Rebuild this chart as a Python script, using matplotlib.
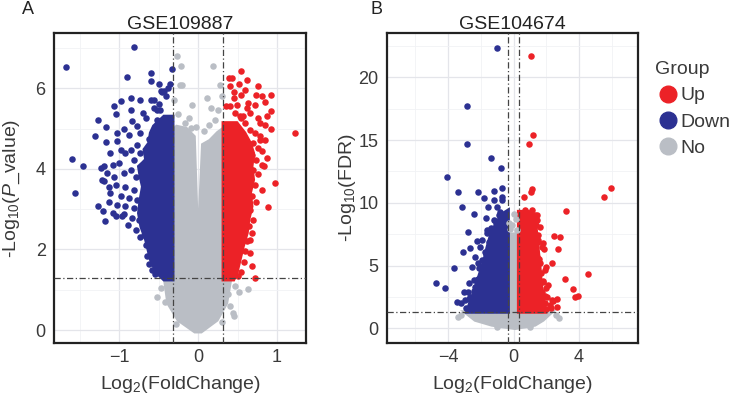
import matplotlib
matplotlib.use('Agg')
import matplotlib.pyplot as plt
from matplotlib.lines import Line2D
from matplotlib.ticker import MultipleLocator

plt.rcParams['font.family'] = ['Liberation Sans', 'DejaVu Sans']
plt.rcParams['mathtext.fontset'] = 'custom'
plt.rcParams['mathtext.rm'] = 'Liberation Sans'
plt.rcParams['mathtext.it'] = 'Liberation Sans:italic'
plt.rcParams['mathtext.default'] = 'regular'

RED = '#EC2227'
BLUE = '#2C3192'
GREY = '#BABEC5'
TXT = '#3A3A3A'

# ---------------- panel A: GSE109887 ----------------
a_fc_cut = 0.32
a_p_cut = 1.301

# dense cores (outline of the solid blobs)
a_down_core_x = [-0.32, -0.43, -0.52, -0.56, -0.60, -0.63, -0.66, -0.72, -0.75, -0.73,
                 -0.70, -0.73, -0.75, -0.70, -0.66, -0.68, -0.62, -0.60, -0.56, -0.43, -0.32]
a_down_core_y = [1.25, 1.25, 1.42, 1.58, 1.75, 2.00, 2.24, 2.57, 2.90, 3.23,
                 3.56, 3.81, 4.06, 4.15, 4.23, 4.48, 4.64, 4.89, 5.06, 5.30, 5.30]
a_up_core_x = [0.32, 0.45, 0.49, 0.53, 0.57, 0.62, 0.64, 0.68, 0.66, 0.70, 0.68,
               0.70, 0.66, 0.59, 0.49, 0.36, 0.32]
a_up_core_y = [1.25, 1.25, 1.42, 1.75, 2.08, 2.41, 2.74, 3.07, 3.40, 3.73, 4.06,
               4.39, 4.64, 4.89, 5.14, 5.14, 5.14]
a_no_core_x = [-0.32, -0.32, -0.27, -0.15, -0.05, -0.01, 0.01, 0.06, 0.15, 0.25, 0.32,
               0.32, 0.41, 0.36, 0.24, 0.04, -0.04, -0.25, -0.38, -0.42]
a_no_core_y = [1.25, 4.95, 5.05, 5.00, 4.80, 2.40, 2.40, 4.60, 4.70, 4.90, 5.00,
               1.25, 1.25, 0.67, 0.25, -0.04, -0.04, 0.25, 0.67, 1.25]

a_down_x = [-0.81, -1.67, -0.90, -0.60, -0.60, -0.33, -0.49, -0.36, -1.06, -0.98, -0.85,
            -0.73, -0.60, -1.04, -1.27, -1.17, -1.30, -1.17, -1.02, -0.94, -0.83, -1.59,
            -1.46, -1.56, -1.27, -1.18, -1.20, -1.23, -1.21, -1.13, -1.04, -0.94,
            -1.19, -1.08, -1.00, -1.15, -1.06, -0.94, -0.85, -0.79, -1.19, -1.04, -0.92,
            -0.81, -1.11, -0.98, -0.87, -0.77, -1.13, -1.02, -0.92, -0.81, -1.08, -0.96,
            -0.83, -0.75, -0.89, -0.79, -0.73, -0.98, -0.85, -0.77, -0.92, -0.81, -0.73,
            -1.11, -1.02, -0.87, -0.73, -0.77, -0.66, -0.85, -0.70, -0.56, -0.47, -0.43,
            -0.56, -0.40, -0.50, -0.45, -0.38, -0.62, -0.52, -0.66, -0.64, -0.69, -0.62,
            -0.58, -0.55, -0.52, -0.48]
a_down_y = [7.02, 6.52, 6.28, 6.38, 6.17, 6.47, 6.10, 6.10, 5.55, 5.69, 5.75,
            5.70, 5.70, 5.35, 5.20, 5.05, 4.82, 4.66, 4.90, 5.00, 5.18, 4.25,
            4.08, 3.40, 3.07, 2.70, 2.95, 4.02, 3.73, 3.56, 2.82, 2.87,
            4.06, 4.10, 4.15, 3.90, 3.81, 3.90, 3.98, 3.81, 3.69, 3.61, 3.56,
            3.48, 3.40, 3.32, 3.28, 3.23, 3.19, 3.11, 3.07, 3.03, 2.90, 2.82,
            2.78, 2.74, 2.61, 2.49, 2.32, 4.48, 4.48, 4.60, 4.39, 4.23, 4.39,
            4.39, 4.68, 4.85, 4.89, 5.06, 5.26, 5.47, 5.38, 5.71, 5.92, 5.92,
            5.51, 5.80, 5.62, 5.90, 6.00, 4.75, 5.45, 2.10, 1.85, 2.35, 1.65,
            1.50, 1.40, 5.20, 5.45]

a_up_x = [0.54, 0.43, 0.39, 0.62, 0.76, 0.93, 1.23, 0.97, 0.89, 0.93, 0.93, 0.85,
          0.74, 0.55, 0.41, 0.66, 0.76, 0.87, 0.83, 0.78, 0.63, 0.49, 0.68, 0.72,
          0.66, 0.66, 0.66, 0.72, 0.78, 0.85, 0.70, 0.76, 0.81, 0.68, 0.74, 0.81,
          0.70, 0.76, 0.66, 0.72, 0.81, 0.68, 0.74, 0.66, 0.70, 0.64, 0.68, 0.78,
          0.87, 0.59, 0.53, 0.47, 0.41, 0.62, 0.72, 0.81, 0.45, 0.59, 0.85, 0.36,
          0.45, 0.52, 0.57, 0.60, 0.58, 0.55, 0.50, 0.62, 0.54]
a_up_y = [6.42, 6.25, 6.25, 6.21, 6.05, 5.84, 4.90, 3.66, 3.05, 5.00, 5.43, 5.66,
          5.84, 5.84, 6.05, 5.38, 5.26, 4.27, 4.06, 4.72, 5.63, 5.59, 1.58, 1.29,
          1.91, 2.24, 4.97, 4.89, 4.81, 4.72, 4.64, 4.52, 4.44, 4.35, 4.23, 4.10,
          3.98, 3.86, 3.73, 3.61, 3.48, 3.32, 3.19, 2.98, 2.74, 2.57, 2.41, 5.14,
          5.30, 5.14, 5.30, 5.38, 5.55, 5.51, 5.59, 5.80, 5.76, 5.96, 5.10, 5.55,
          5.90, 6.10, 5.30, 1.95, 1.70, 1.45, 1.35, 2.20, 5.25]

a_no_x = [-0.27, -0.21, 0.19, -0.23, -0.20, -0.08, 0.11, 0.17, 0.28, 0.14, -0.17,
          -0.09, -0.52, -0.42, 0.63, 0.44, 0.41, -0.25, -0.12, 0.22, 0.25, -0.03,
          0.08, 0.30, -0.30, 0.47, 0.52, -0.47, 0.38, -0.35, 0.45, 0.30, -0.28]
a_no_y = [6.79, 6.54, 6.54, 6.09, 6.09, 5.59, 5.76, 5.51, 6.09, 5.09, 5.14,
          5.02, 0.83, 0.70, 1.03, 0.42, 0.60, 5.35, 5.25, 5.20, 5.45, 5.05,
          4.95, 5.80, 5.70, 1.10, 0.95, 1.05, 0.90, 0.95, 0.35, 0.20, 0.15]

# ---------------- panel B: GSE104674 ----------------
b_fc_cut = 0.32
b_p_cut = 1.301

b_down_core_x = [-0.33, -2.85, -2.70, -2.50, -2.30, -2.05, -1.80, -1.62, -1.45, -1.20,
                 -0.95, -0.70, -0.33]
b_down_core_y = [1.30, 1.30, 1.90, 2.60, 3.40, 4.40, 5.40, 6.40, 7.20, 8.00,
                 8.60, 9.10, 9.40]
b_up_core_x = [0.31, 1.95, 1.85, 1.70, 1.60, 1.50, 1.40, 1.30, 0.90, 0.40, 0.31]
b_up_core_y = [1.30, 1.30, 2.25, 3.32, 4.91, 6.24, 7.57, 9.00, 9.30, 9.30, 9.30]
b_no_core_x = [-2.97, -2.35, -1.33, 0.09, 1.31, 1.80, 2.33, 0.31, 0.31, -0.33, -0.33]
b_no_core_y = [1.30, 0.66, 0.27, 0.00, 0.27, 0.66, 1.30, 1.30, 7.50, 7.50, 1.30]

b_down_x = [-1.03, -2.84, -2.84, -1.36, -0.76, -4.07, -3.39, -2.19, -3.15, -2.40,
            -1.68, -1.56, -1.79, -1.18, -0.73, -2.78, -2.23, -2.64, -3.09, -2.19,
            -3.66, -1.79, -4.72, -4.17, -3.05, -2.78, -3.46, -3.21, -2.23, -1.92,
            -1.41, -1.01, -0.60, -1.62, -1.31, -2.03, -1.72, -2.33, -1.93, -1.41,
            -2.54, -2.13, -1.62, -2.43, -2.74, -2.33, -1.82, -2.64, -2.95, -2.54,
            -1.21, -1.01, -0.70, -0.91, -1.21, -1.62, -1.93, -1.52, -0.70, -0.60,
            -2.90, -2.70, -2.45, -2.20, -1.95, -1.70, -1.50, -1.30, -1.05, -0.85]
b_down_y = [22.3, 17.7, 14.66, 13.55, 12.75, 12.03, 10.83, 10.83, 9.69, 9.10,
            8.76, 9.63, 10.40, 10.94, 11.20, 7.67, 6.95, 6.37, 6.05, 5.20,
            4.83, 4.50, 3.58, 3.24, 2.92, 2.92, 2.12, 1.98, 3.85, 4.11,
            7.97, 8.10, 8.10, 7.57, 7.31, 6.50, 6.11, 5.71, 5.44, 5.71,
            4.91, 4.78, 4.65, 3.85, 3.58, 3.32, 3.58, 2.52, 2.25, 1.98,
            10.22, 9.69, 10.22, 9.03, 8.63, 7.83, 7.04, 6.50, 10.49, 8.90,
            1.60, 2.30, 3.00, 3.90, 4.90, 5.90, 6.90, 7.70, 8.40, 9.30]

b_up_x = [1.07, 1.17, 0.97, 1.11, 1.05, 0.64, 5.96, 5.55, 3.19, 2.50, 2.84, 2.70,
          1.82, 1.87, 2.33, 1.99, 4.54, 3.15, 3.66, 3.96, 3.76, 2.64, 2.44, 2.64,
          2.27, 1.99, 1.52, 1.42, 0.70, 1.11, 1.42, 1.62, 1.52, 1.72, 1.42, 1.62,
          1.93, 1.52, 1.82, 2.13, 1.72, 2.03, 2.33, 1.93, 2.23, 1.31, 0.91, 0.70,
          2.00, 1.90, 1.78, 1.68, 1.58, 1.48, 1.38]
b_up_y = [21.7, 15.4, 14.66, 11.07, 10.90, 10.44, 11.20, 10.44, 9.38, 7.39, 7.31, 6.33,
          6.78, 6.30, 5.20, 4.91, 4.30, 3.90, 3.10, 2.57, 2.46, 2.30, 2.17, 1.67,
          1.59, 3.18, 7.44, 9.04, 9.43, 9.43, 8.63, 8.10, 7.04, 6.50, 5.71, 5.18,
          4.65, 4.11, 3.72, 3.45, 2.92, 2.52, 2.25, 1.98, 1.85, 9.03, 9.16, 8.63,
          1.50, 2.60, 3.80, 4.40, 5.50, 6.90, 8.20]

b_no_x = [-0.10, 0.12, -0.20, 0.05, -0.25, 0.20, -3.20, 2.60, -3.40, 2.80, -1.00, 1.00]
b_no_y = [8.20, 8.70, 7.90, 9.10, 8.40, 7.80, 1.10, 1.10, 0.90, 0.85, 0.10, 0.10]

W, H = 734, 401
fig = plt.figure(figsize=(W / 100, H / 100), dpi=100)

def px_axes(l, t, r, b):
    return fig.add_axes([l / W, 1 - b / H, (r - l) / W, (b - t) / H])

axA = px_axes(54, 33, 306, 343)
axB = px_axes(387, 33, 638, 343)

def style(ax, xmaj, xmin, ymaj, ymin):
    ax.set_facecolor('white')
    ax.xaxis.set_major_locator(MultipleLocator(xmaj))
    ax.xaxis.set_minor_locator(MultipleLocator(xmin))
    ax.yaxis.set_major_locator(MultipleLocator(ymaj))
    ax.yaxis.set_minor_locator(MultipleLocator(ymin))
    ax.grid(which='major', color='#E4E5EA', lw=0.9, zorder=0)
    ax.grid(which='minor', color='#F1F2F5', lw=0.6, zorder=0)
    ax.set_axisbelow(True)
    for s in ax.spines.values():
        s.set_linewidth(1.6)
        s.set_color('#222222')
    ax.tick_params(which='major', length=0, labelsize=13, labelcolor=TXT)
    ax.tick_params(axis='y', pad=6)
    ax.tick_params(axis='x', pad=4)
    ax.tick_params(which='minor', length=0)

def draw(ax, cores, pts, xcut, ycut):
    for (cx, cy, c) in cores:
        ax.fill(cx, cy, color=c, lw=2.5, ec=c, zorder=2)
    for (x, y, c) in pts:
        ax.scatter(x, y, s=22, color=c, lw=0, zorder=3)
    dash = (0, (5, 2, 1, 2))
    ax.axvline(-xcut, color='#444444', lw=0.9, ls=dash, zorder=4)
    ax.axvline(xcut, color='#444444', lw=0.9, ls=dash, zorder=4)
    ax.axhline(ycut, color='#444444', lw=0.9, ls=dash, zorder=4)

draw(axA,
     [(a_no_core_x, a_no_core_y, GREY),
      (a_down_core_x, a_down_core_y, BLUE),
      (a_up_core_x, a_up_core_y, RED)],
     [(a_no_x, a_no_y, GREY), (a_down_x, a_down_y, BLUE), (a_up_x, a_up_y, RED)],
     a_fc_cut, a_p_cut)
draw(axB,
     [(b_no_core_x, b_no_core_y, GREY),
      (b_down_core_x, b_down_core_y, BLUE),
      (b_up_core_x, b_up_core_y, RED)],
     [(b_no_x, b_no_y, GREY), (b_down_x, b_down_y, BLUE), (b_up_x, b_up_y, RED)],
     b_fc_cut, b_p_cut)

style(axA, 1, 0.5, 2, 1)
style(axB, 4, 2, 5, 2.5)
axA.set_xlim(-1.823, 1.367)
axA.set_ylim(-0.32, 7.37)
axB.set_xlim(-7.74, 7.61)
axB.set_ylim(-1.17, 23.53)

axA.set_title('GSE109887', fontsize=14, pad=2, color='#222222')
axB.set_title('GSE104674', fontsize=14, pad=2, color='#222222')
axA.set_xlabel('Log$_{2}$(FoldChange)', fontsize=14, color=TXT, labelpad=6)
axB.set_xlabel('Log$_{2}$(FoldChange)', fontsize=14, color=TXT, labelpad=6)
axA.set_ylabel(r'-Log$_{10}$($\mathit{P}$_value)', fontsize=14, color=TXT)
axB.set_ylabel('-Log$_{10}$(FDR)', fontsize=14, color=TXT)
axA.yaxis.set_label_coords(-0.128, 0.5)
axB.yaxis.set_label_coords(-0.114, 0.5)

fig.text(22 / W, 1 - 10 / H, 'A', fontsize=13, ha='left', va='center', color='#222222')
fig.text(371 / W, 1 - 10 / H, 'B', fontsize=13, ha='left', va='center', color='#222222')

handles = [Line2D([], [], ls='', marker='o', ms=12, mfc=c, mec=c)
           for c in (RED, BLUE, GREY)]
leg = fig.legend(handles, ['Up', 'Down', 'No'], title='Group',
                 loc='upper left', bbox_to_anchor=(655 / W, 1 - 61 / H),
                 frameon=False, fontsize=14, title_fontsize=14,
                 handletextpad=0.0, labelspacing=0.45, handlelength=1.3,
                 borderaxespad=0, borderpad=0)
leg._legend_box.align = 'left'
for t in leg.get_texts():
    t.set_color(TXT)
leg.get_title().set_color(TXT)

fig.savefig('out.png', dpi=100)
